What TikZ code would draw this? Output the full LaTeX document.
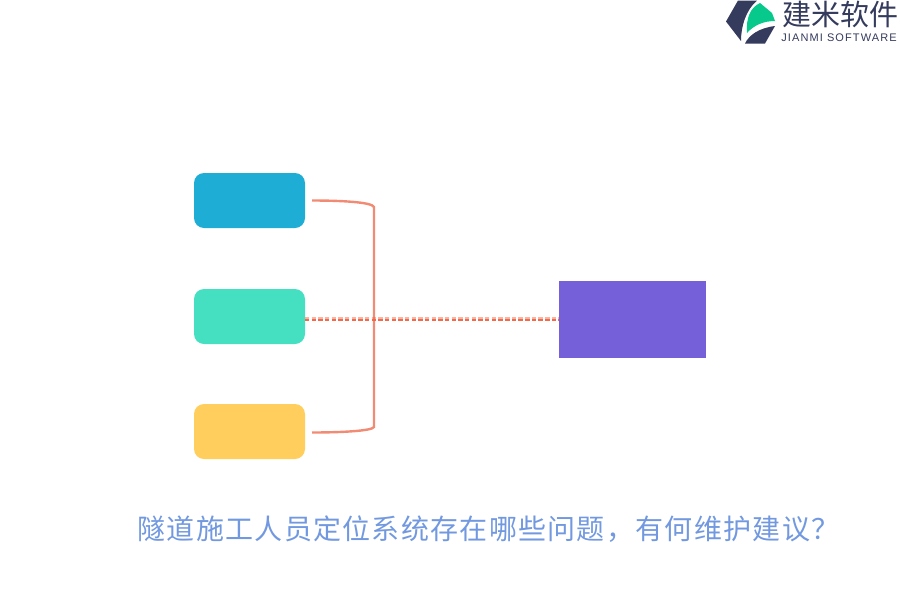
\documentclass[tikz,border=0pt]{standalone}
\usepackage{fontspec}
\newfontfamily\cjk{Noto Sans CJK SC}
\newfontfamily\latinf{Liberation Sans}
\definecolor{blueb}{HTML}{1EADD5}
\definecolor{greenb}{HTML}{45E0C2}
\definecolor{yellowb}{HTML}{FFCE5C}
\definecolor{purpleb}{HTML}{7660DA}
\definecolor{linec}{HTML}{F28B73}
\definecolor{dashc}{HTML}{F4694A}
\definecolor{titlec}{HTML}{7299E0}
\definecolor{logod}{HTML}{343B5C}
\definecolor{logog}{HTML}{06C98B}
\tikzset{
  x=1pt,y=-1pt,
  card/.style={draw=none,rounded corners=10pt,minimum width=111pt,minimum height=55pt,inner sep=0pt,outer sep=0pt},
  bracket/.style={draw=linec,line width=2.4pt},
  dashlink/.style={draw=dashc,line width=1.9pt,dash pattern=on 4.4pt off 2.27pt},
}
\begin{document}
\begin{tikzpicture}
\useasboundingbox (0,0) rectangle (900,600);
\node[card,fill=blueb] (a) at (249.5,200.5) {};
\node[card,fill=greenb] (b) at (249.5,316.5) {};
\node[card,fill=yellowb] (c) at (249.5,431.5) {};
\node[draw=none,fill=purpleb,minimum width=147pt,minimum height=77pt,inner sep=0pt,outer sep=0pt] (d) at (632.5,319.5) {};
\coordinate (as) at (312,200.5);
\coordinate (cs) at (312,432.5);
\coordinate (at) at (374,207);
\coordinate (ct) at (374,427);
\draw[bracket] (as) .. controls (340,200.5) and (372,202) .. (at) -- (ct) .. controls (372,431) and (340,432.5) .. (cs);
\draw[dashlink,opacity=.5] ([yshift=1.5pt]b.east |- d.west) -- ([yshift=1.5pt]d.west);
\draw[dashlink] ([yshift=-0.5pt]b.east |- d.west) -- ([yshift=-0.5pt]d.west);
\node[font=\cjk\fontsize{28}{28}\selectfont,text=titlec,inner sep=0pt,anchor=west] (t) at (137.5,529.5) {\addfontfeature{LetterSpace=4.6}隧道施工人员定位系统存在哪些问题，有何维护建议？};
% logo
\fill[logod] (738,0.5) -- (757,0.5) .. controls (746,10) and (741,26) .. (741,41) -- (726,21.5) -- cycle;
\fill[logog] (747,33) .. controls (746,18) and (750,8) .. (760,3) -- (772,13) -- (775,21) .. controls (764,21) and (754,25) .. (747,33) -- cycle;
\fill[logod] (745,43.5) .. controls (749,35) and (759,28) .. (775,26) -- (765,43.5) -- cycle;
\node[font=\cjk\fontsize{29}{29}\selectfont,text=logod,inner sep=0pt] (lt) at (840,14) {建米软件};
\node[font=\latinf\fontsize{11}{11}\selectfont,text=logod,inner sep=0pt] (ls) at (839,38) {\addfontfeature{LetterSpace=10}JIANMI SOFTWARE};
\end{tikzpicture}
\end{document}
